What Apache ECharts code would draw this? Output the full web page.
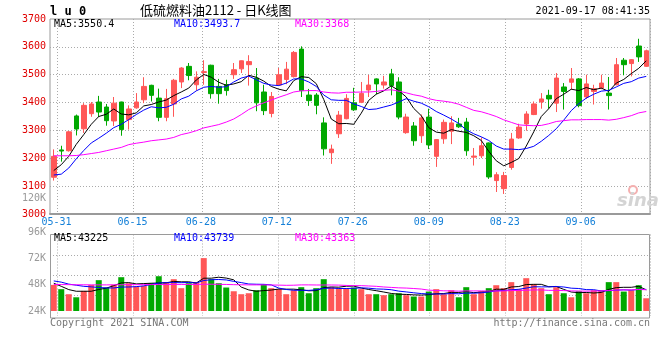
<!DOCTYPE html>
<html><head><meta charset="utf-8">
<script src="https://cdn.jsdelivr.net/npm/echarts@6/dist/echarts.min.js"></script>
<style>html,body{margin:0;padding:0;background:#fff}#c{width:660px;height:360px}</style>
</head><body><div id="c"></div>
<script>
// ---------- data ----------
const dates = ['05-28','05-31','06-01','06-02','06-03','06-04','06-07','06-08','06-09','06-10',
'06-11','06-15','06-16','06-17','06-18','06-21','06-22','06-23','06-24','06-25',
'06-28','06-29','06-30','07-01','07-02','07-05','07-06','07-07','07-08','07-09',
'07-12','07-13','07-14','07-15','07-16','07-19','07-20','07-21','07-22','07-23',
'07-26','07-27','07-28','07-29','07-30','08-02','08-03','08-04','08-05','08-06',
'08-09','08-10','08-11','08-12','08-13','08-16','08-17','08-18','08-19','08-20',
'08-23','08-24','08-25','08-26','08-27','08-30','08-31','09-01','09-02','09-03',
'09-06','09-07','09-08','09-09','09-10','09-13','09-14','09-15','09-16','09-17'];
const dateLabels = ['05-31','06-15','06-28','07-12','07-26','08-09','08-23','09-06'];

const openP = [3132,3230,3227,3352,3306,3360,3402,3384,3334,3402,
3339,3381,3410,3462,3416,3347,3395,3474,3530,3464,
3508,3534,3458,3464,3500,3521,3536,3488,3438,3361,
3463,3483,3493,3592,3427,3427,3327,3220,3288,3342,
3399,3401,3445,3485,3463,3503,3474,3292,3316,3281,
3348,3207,3270,3297,3323,3330,3204,3209,3255,3120,
3091,3167,3273,3323,3357,3402,3426,3398,3456,3473,
3485,3420,3440,3452,3434,3464,3552,3540,3603,3530];
const closeP = [3207,3226,3295,3305,3390,3395,3366,3335,3398,3303,
3377,3402,3458,3426,3347,3414,3480,3524,3497,3491,
3511,3432,3432,3443,3518,3550,3547,3399,3371,3422,
3500,3520,3580,3443,3407,3390,3234,3233,3355,3415,
3374,3433,3463,3467,3474,3461,3348,3348,3263,3345,
3248,3267,3329,3327,3313,3227,3208,3245,3133,3141,
3138,3269,3312,3359,3395,3413,3413,3488,3440,3485,
3389,3467,3450,3470,3425,3536,3536,3554,3564,3586];
const lowP = [3120,3188,3224,3282,3291,3349,3348,3317,3316,3281,
3303,3378,3398,3404,3333,3333,3349,3452,3480,3443,
3464,3414,3396,3425,3485,3506,3461,3369,3355,3347,
3460,3466,3490,3420,3388,3358,3210,3180,3273,3340,
3370,3398,3420,3430,3450,3426,3340,3288,3245,3255,
3233,3169,3252,3251,3309,3209,3174,3201,3126,3079,
3072,3159,3270,3299,3355,3378,3378,3366,3375,3446,
3383,3413,3393,3448,3375,3462,3498,3494,3546,3528];
const highP = [3232,3245,3298,3357,3398,3402,3424,3395,3420,3403,
3390,3434,3491,3464,3450,3449,3485,3527,3542,3512,
3552,3536,3485,3482,3542,3551,3570,3524,3464,3438,
3524,3546,3585,3602,3449,3434,3347,3249,3370,3430,
3453,3474,3499,3487,3496,3521,3491,3360,3330,3357,
3378,3269,3339,3351,3345,3345,3237,3275,3257,3150,
3151,3291,3324,3369,3404,3434,3446,3506,3470,3524,
3488,3500,3464,3500,3492,3560,3560,3556,3629,3590];

const ma5 = [3156,3177,3207,3250,3285,3322,3350,3358,3377,3359,
3356,3363,3388,3393,3402,3409,3425,3438,3452,3481,
3501,3491,3473,3462,3467,3475,3498,3491,3477,3458,
3448,3442,3479,3493,3490,3468,3411,3341,3324,3325,
3322,3362,3408,3430,3442,3460,3443,3420,3379,3353,
3310,3294,3290,3303,3297,3293,3281,3264,3225,3191,
3173,3185,3199,3244,3295,3350,3378,3414,3430,3448,
3443,3454,3446,3452,3440,3470,3483,3504,3523,3550];
const ma10 = [3140,3143,3165,3198,3228,3255,3272,3290,3310,3322,
3339,3357,3373,3385,3381,3383,3394,3413,3423,3442,
3455,3458,3455,3457,3474,3488,3495,3482,3469,3463,
3461,3470,3485,3485,3474,3458,3427,3410,3408,3408,
3395,3386,3375,3377,3384,3391,3402,3414,3405,3398,
3385,3368,3355,3341,3325,3302,3288,3277,3264,3244,
3233,3233,3231,3235,3243,3261,3282,3306,3337,3371,
3396,3416,3430,3441,3444,3456,3469,3475,3488,3494];
const ma30 = [3209,3209,3209,3210,3213,3217,3221,3227,3233,3239,
3249,3254,3258,3263,3266,3269,3275,3285,3291,3299,
3309,3315,3321,3330,3341,3357,3375,3388,3399,3409,
3419,3428,3438,3442,3443,3443,3438,3435,3434,3437,
3437,3438,3438,3440,3444,3446,3441,3435,3428,3423,
3414,3408,3405,3401,3394,3383,3372,3367,3359,3350,
3338,3329,3320,3318,3317,3318,3324,3332,3335,3338,
3338,3339,3339,3339,3337,3340,3346,3353,3363,3368];

// volume, thousands of lots
const volume = [47.8,43.9,39.3,36.5,42.3,47.8,52.1,45.4,47.8,54.8,
49.3,46.3,46.9,49.3,55.7,50.3,53.0,44.8,49.3,50.3,
72.2,53.0,49.3,45.4,42.0,39.3,40.2,42.9,48.4,44.8,
43.9,39.3,42.9,45.7,40.2,44.8,53.0,45.7,44.8,44.8,
45.4,43.9,39.3,39.3,38.4,39.3,40.2,38.4,37.2,37.2,
41.7,43.9,39.3,42.9,36.5,45.7,39.3,42.0,44.8,47.5,
44.8,50.3,43.9,53.9,48.4,44.8,39.3,45.7,40.2,36.5,
42.0,40.2,42.9,42.9,50.3,50.3,41.7,42.9,47.5,35.6];
const volMa5 = [49.3,46.5,43.5,42.0,42.0,42.0,43.6,44.8,47.1,49.6,
49.9,48.7,49.0,49.3,49.5,49.7,51.0,50.6,50.6,49.5,
53.9,53.9,54.8,54.0,52.4,45.8,43.2,42.0,42.6,43.1,
44.0,43.9,43.9,43.3,42.4,42.6,45.3,45.9,45.7,46.6,
46.7,44.9,43.6,42.5,41.3,40.0,39.3,39.1,38.7,38.5,
38.9,39.7,39.9,41.0,40.9,41.7,40.7,41.3,41.7,43.9,
43.7,45.9,46.3,48.1,48.3,48.3,46.1,46.4,43.7,41.3,
40.7,40.9,40.4,40.9,43.7,45.3,45.6,45.6,46.5,43.2];
const volMa10 = [51.4,50.3,48.5,47.5,46.5,46.0,45.4,45.0,45.0,45.8,
45.9,46.2,46.9,48.2,49.5,49.8,49.9,49.8,50.0,49.5,
51.8,52.5,52.7,52.3,51.0,49.9,48.6,48.4,48.3,47.8,
44.9,43.6,42.9,42.9,42.8,43.3,44.6,44.9,44.5,44.5,
44.7,45.1,44.8,44.1,43.9,43.4,42.1,41.4,40.6,39.9,
39.5,39.5,39.5,39.9,39.7,40.3,40.2,40.6,41.3,42.4,
42.7,43.3,43.8,44.9,46.1,46.0,46.0,46.3,45.9,44.8,
44.5,43.5,43.4,42.3,42.5,43.0,43.3,43.0,43.7,43.7];
const volMa30 = [48.2,48.1,48.0,47.9,47.9,47.8,47.8,47.8,47.9,47.9,
48.0,48.0,48.0,48.1,48.1,48.1,48.2,48.2,48.2,48.2,
48.4,48.4,48.3,48.2,48.0,47.9,47.8,47.8,47.8,47.7,
47.6,47.4,47.5,47.8,47.8,47.7,47.7,47.7,47.6,47.3,
47.1,47.1,46.8,46.5,45.9,45.5,45.1,44.9,44.5,44.0,
43.0,42.7,42.4,42.3,42.1,42.3,42.3,42.3,42.2,42.2,
42.3,42.6,42.7,42.9,43.2,43.2,42.8,42.8,42.6,42.3,
42.2,42.1,42.2,42.3,42.7,43.1,43.2,43.3,43.6,43.4];

const legendMain = ['MA5:3550.4','MA10:3493.7','MA30:3368'];
const legendVol = ['MA5:43225','MA10:43739','MA30:43363'];

// ---------- chart ----------
const MONO = '"DejaVu Sans Mono", monospace';
const RED = '#ff5757', GREEN = '#00a800', FRAME = '#9a9a9a';
const MAC = ['#000000', '#0000ff', '#ff00ff'];
const dot = { color: '#aaaaaa', width: 1, type: [1, 2] };
const labelSlots = dates.slice(0, 79);
const isLabelDate = (i, v) => dateLabels.indexOf(v) >= 0;

const chart = echarts.init(document.getElementById('c'), null, { renderer: 'canvas' });

const candleData = dates.map((d, i) => [openP[i], closeP[i], lowP[i], highP[i]]);
const volData = volume.map((v, i) => ({ value: v, itemStyle: { color: closeP[i] >= openP[i] ? RED : GREEN } }));
const maLine = (data, color, xi, yi) => ({
  type: 'line', data, xAxisIndex: xi, yAxisIndex: yi, symbol: 'none', showSymbol: false,
  lineStyle: { color, width: 1 }, silent: true, animation: false
});
const txt = (text, x, y, fill, extra) => Object.assign({
  type: 'text', x, y, silent: true, z: 100,
  style: Object.assign({ text, fill, font: '10px ' + MONO, verticalAlign: 'middle', align: 'left' }, extra || {})
});

chart.setOption({
  animation: false,
  backgroundColor: '#ffffff',
  grid: [
    { left: 50, top: 19, width: 600, height: 195, show: true, borderColor: FRAME, borderWidth: 1 },
    { left: 50, top: 232, width: 600, height: 79 },
    { left: 50, top: 234.5, width: 600, height: 81.5 }
  ],
  xAxis: [
    { type: 'category', gridIndex: 0, data: dates, boundaryGap: true, show: false, position: 'top' },
    { type: 'category', gridIndex: 0, data: labelSlots, boundaryGap: true, position: 'bottom',
      axisLine: { show: true, onZero: false, lineStyle: { color: FRAME, width: 2 } },
      axisTick: { show: false },
      axisLabel: { interval: isLabelDate, color: '#1580d8', fontFamily: MONO, fontSize: 10, margin: 3, padding: [0, 9.6, 0, 0] },
      splitLine: { show: true, interval: isLabelDate, lineStyle: dot } },
    { type: 'category', gridIndex: 1, data: dates, boundaryGap: true, show: false },
    { type: 'category', gridIndex: 2, data: labelSlots, boundaryGap: true,
      axisLine: { show: false }, axisTick: { show: false }, axisLabel: { show: false },
      splitLine: { show: true, interval: isLabelDate, lineStyle: dot } }
  ],
  yAxis: [
    { type: 'value', gridIndex: 0, min: 3000, max: 3700, interval: 100,
      axisLine: { show: false }, axisTick: { show: false },
      axisLabel: { color: '#e00000', fontFamily: MONO, fontSize: 10, margin: 4, padding: [0, 0, 4, 0], formatter: v => String(v) },
      splitLine: { show: true, showMinLine: false, showMaxLine: false, lineStyle: dot } },
    { type: 'value', gridIndex: 1, min: 24, max: 96, interval: 24,
      axisLine: { show: false }, axisTick: { show: false },
      axisLabel: { color: '#999999', fontFamily: MONO, fontSize: 10, margin: 4, formatter: v => v + 'K' },
      splitLine: { show: false } },
    { type: 'value', gridIndex: 2, min: 0, max: 4, interval: 1,
      axisLine: { show: false }, axisTick: { show: false }, axisLabel: { show: false },
      splitLine: { show: true, showMinLine: false, showMaxLine: false, lineStyle: dot } }
  ],
  series: [
    { type: 'candlestick', xAxisIndex: 0, yAxisIndex: 0, data: candleData, barWidth: 5,
      itemStyle: { color: RED, color0: GREEN, borderColor: RED, borderColor0: GREEN, borderWidth: 1 } },
    maLine(ma5, MAC[0], 0, 0), maLine(ma10, MAC[1], 0, 0), maLine(ma30, MAC[2], 0, 0),
    { type: 'bar', xAxisIndex: 2, yAxisIndex: 1, data: volData, barWidth: 6, clip: true },
    maLine(volMa5, MAC[0], 2, 1), maLine(volMa10, MAC[1], 2, 1), maLine(volMa30, MAC[2], 2, 1)
  ],
  graphic: [
    { type: 'rect', silent: true, z: 90, shape: { x: 50.5, y: 234.5, width: 599, height: 83.5 },
      style: { fill: 'none', stroke: FRAME, lineWidth: 1 } },
    txt('l u 0', 50, 11.5, '#000', { font: 'bold 12px ' + MONO }),
    txt('低硫燃料油2112 - 日K线图', 140, 10, '#000', { font: '13px "Noto Sans CJK SC"' }),
    txt('2021-09-17 08:41:35', 650, 11.5, '#000', { align: 'right' }),
    txt(legendMain[0], 54, 24, MAC[0]), txt(legendMain[1], 174, 24, MAC[1]), txt(legendMain[2], 295, 24, MAC[2]),
    txt(legendVol[0], 54, 238.5, MAC[0]), txt(legendVol[1], 174, 238.5, MAC[1]), txt(legendVol[2], 295, 238.5, MAC[2]),
    txt('120K', 46, 198.5, '#999999', { align: 'right' }),
    txt('Copyright 2021 SINA.COM', 50, 323.5, '#777777'),
    txt('http://finance.sina.com.cn', 650, 323.5, '#777777', { align: 'right' }),
    { type: 'circle', silent: true, z: 95, shape: { cx: 633, cy: 190, r: 4 },
      style: { fill: 'none', stroke: '#f4b0b0', lineWidth: 2 } },
    txt('sina', 617, 201, '#d4d4d4', { font: 'italic bold 18px "DejaVu Sans"' })
  ]
});
</script>
</body></html>
